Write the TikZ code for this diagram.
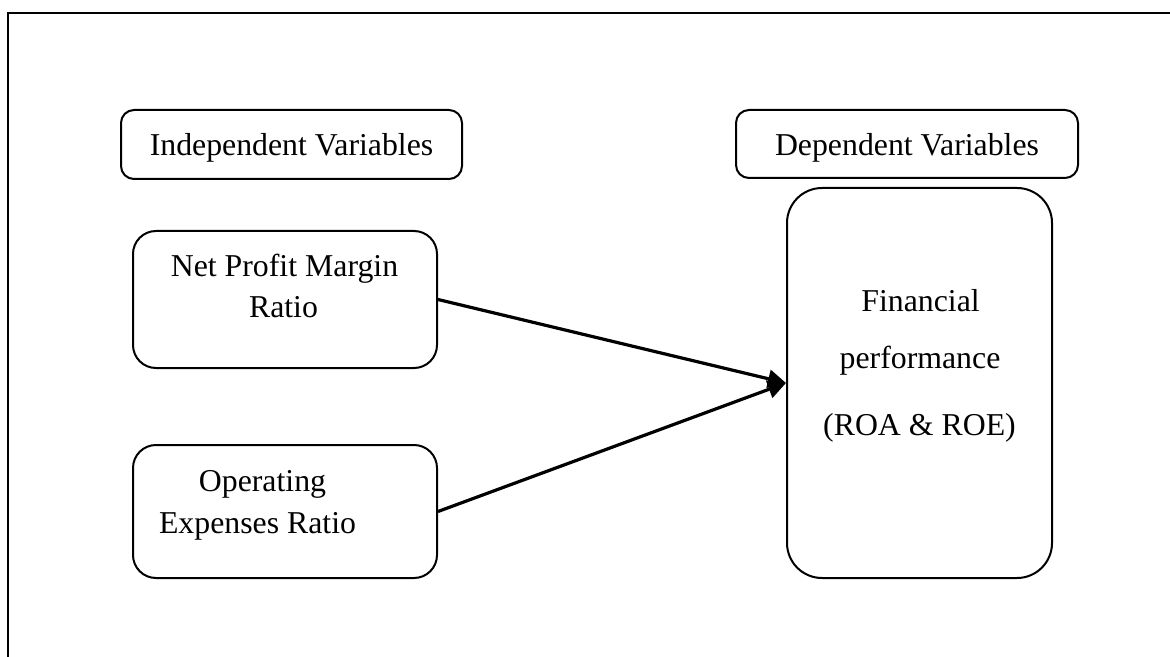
\documentclass[tikz,border=0pt]{standalone}
\usepackage{fontspec}
\setmainfont{Liberation Serif}
\usetikzlibrary{arrows.meta}

\begin{document}
\begin{tikzpicture}[x=0.5pt, y=-0.5pt,
    box/.style={draw, rounded corners=#1, line width=1pt, inner sep=0pt,
                font=\fontsize{15.9}{20}\selectfont},
    box/.default=6.5pt,
    lbl/.style={font=\fontsize{15.9}{20}\selectfont, inner sep=0pt, anchor=base},
    link/.style={-{Triangle[length=9pt,width=9pt]}, line width=1.6pt}]
                \useasboundingbox (0,0) rectangle (1170,657);
                \draw[line width=1.1pt] (8,657) -- (8,13) -- (1170,13);
                % headers
                \node[box, minimum width=170.5pt, minimum height=34.5pt, text height=15pt, text depth=3.5pt] (indep) at (291.5,144.5) {Independent Variables};
                \node[box, minimum width=171pt, minimum height=34pt, text height=15pt, text depth=3.5pt] (dep) at (907,144) {Dependent Variables};
                % boxes
                \node[box=11.5pt, minimum width=152pt, minimum height=68.5pt] (npm) at (285,299.5) {};
                \node[box=11.5pt, minimum width=152pt, minimum height=66.5pt] (opex) at (285,511.5) {};
                \node[box=17.5pt, minimum width=132.5pt, minimum height=195pt] (fin) at (919.5,383) {};
                % texts
                \node[lbl] (npm1) at (284.5,277) {Net Profit Margin};
                \node[lbl] (npm2) at (283.5,317) {Ratio};
                \node[lbl] (opex1) at (262.5,491) {Operating};
                \node[lbl] (opex2) at (257.5,533) {Expenses Ratio};
                \node[lbl] (fin1) at (920.5,311) {Financial};
                \node[lbl] (fin2) at (920,368) {performance};
                \node[lbl] (fin3) at (919.5,435) {(ROA \& ROE)};
                % arrows
                \draw[link] (npm.east) -- (fin.west);
                \draw[link] (opex.east) -- (fin.west);
            \end{tikzpicture}
\end{document}
